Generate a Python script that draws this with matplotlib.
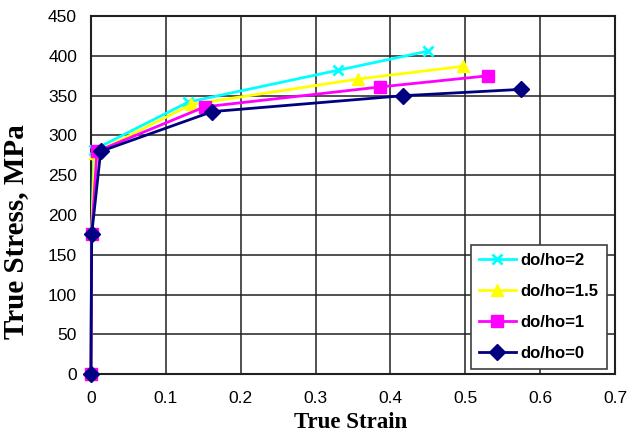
import matplotlib
matplotlib.use("Agg")
import matplotlib.pyplot as plt

# true strain / true stress readings per do/ho ratio
strain_2 = [0, 0.001, 0.004, 0.130, 0.330, 0.450]
stress_2 = [0, 176, 282, 342, 382, 406]
strain_15 = [0, 0.001, 0.005, 0.134, 0.357, 0.497]
stress_15 = [0, 176, 278, 339, 371, 387]
strain_1 = [0, 0.001, 0.008, 0.152, 0.386, 0.530]
stress_1 = [0, 176, 280, 336, 361, 375]
strain_0 = [0, 0.001, 0.013, 0.162, 0.417, 0.575]
stress_0 = [0, 176, 280, 330, 350, 358]

x_ticks = [0, 0.1, 0.2, 0.3, 0.4, 0.5, 0.6, 0.7]
y_ticks = [0, 50, 100, 150, 200, 250, 300, 350, 400, 450]

fig = plt.figure(figsize=(6.36, 4.37), dpi=100)
ax = fig.add_axes([0.143, 0.144, 0.824, 0.819])

kw = dict(lw=2, clip_on=False, zorder=3)
ax.plot(strain_2, stress_2, color="#00FFFF", marker="x", markersize=7, mew=2, label="do/ho=2", **kw)
ax.plot(strain_15, stress_15, color="#FFFF00", marker="^", markersize=8, label="do/ho=1.5", **kw)
ax.plot(strain_1, stress_1, color="#FF00FF", marker="s", markersize=8, label="do/ho=1", **kw)
ax.plot(strain_0, stress_0, color="#000080", marker="D", markersize=8, label="do/ho=0", **kw)

ax.set_xlim(0, 0.7)
ax.set_ylim(0, 450)
ax.set_xticks(x_ticks)
ax.set_xticklabels([f"{t:g}" for t in x_ticks])
ax.set_yticks(y_ticks)
ax.grid(True, color="#202020", lw=1.1)
ax.set_axisbelow(True)
for s in ax.spines.values():
    s.set_color("#202020")
    s.set_linewidth(1.5)
ax.tick_params(length=0, labelsize=12.5)
ax.tick_params(axis="y", pad=10)
ax.tick_params(axis="x", pad=12)
for lab in ax.get_xticklabels() + ax.get_yticklabels():
    lab.set_family("Liberation Sans")

ax.set_xlabel("True Strain", family="Liberation Serif", fontweight="bold", fontsize=16.5)
ax.xaxis.set_label_coords(0.496, -0.105)
ax.set_ylabel("True Stress, MPa", family="Liberation Serif", fontweight="bold", fontsize=21)
ax.yaxis.set_label_coords(-0.118, 0.397)

leg = ax.legend(loc="lower right", bbox_to_anchor=(0.985, 0.014), borderaxespad=0, fancybox=False,
                framealpha=1, edgecolor="#404040", handlelength=2.2, handletextpad=0.3,
                labelspacing=0.95, borderpad=0.5,
                prop={"family": "Liberation Sans", "weight": "bold", "size": 12})
leg.get_frame().set_linewidth(1.2)

fig.savefig("out.png", dpi=100)
